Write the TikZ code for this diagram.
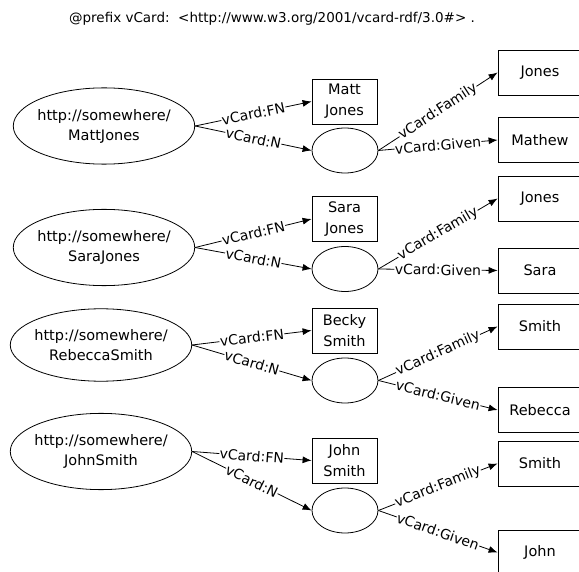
\documentclass[tikz,border=0pt]{standalone}
\usepackage{fontspec}
\setmainfont{DejaVu Sans}
\usetikzlibrary{shapes.geometric,arrows.meta}

\begin{document}
\begin{tikzpicture}[x=1pt,y=-1pt]

\tikzstyle{title}=[inner sep=0pt, font=\fontsize{13.5}{16}\selectfont]
\tikzstyle{uri}=[ellipse, draw, line width=0.8pt, inner xsep=-2.5pt, inner ysep=10pt, align=center, font=\fontsize{14.5}{20}\selectfont]
\tikzstyle{blank}=[ellipse, draw, line width=0.8pt, minimum width=66pt, minimum height=45pt, inner sep=0pt]
\tikzstyle{literal}=[rectangle, draw, line width=0.8pt, minimum width=65pt, minimum height=45pt, inner sep=0pt, align=center, font=\fontsize{14.5}{21}\selectfont]
\tikzstyle{value}=[rectangle, draw, line width=0.8pt, minimum width=84pt, minimum height=45pt, inner sep=0pt, font=\fontsize{14.5}{20}\selectfont]
\tikzstyle{edge1}=[line width=0.8pt, -{Latex[length=9pt,width=7pt]}]
\tikzstyle{prop}=[sloped, fill=white, inner sep=0.5pt, font=\fontsize{14}{16}\selectfont]

\useasboundingbox (0,0) rectangle (579,572);

\node[title] (prefix) at (272,19) {@prefix vCard:~~<http://www.w3.org/2001/vcard-rdf/3.0\#>~.};

% Matt Jones
\node[uri] (subject1) at (104,126) {http://somewhere/\\MattJones};
\node[literal] (fn1) at (344.5,101.5) {Matt\\Jones};
\node[blank] (name1) at (345,150.5) {};
\node[value] (family1) at (540,72.5) {Jones};
\node[value] (given1) at (540,140) {Mathew};

% Sara Jones
\node[uri] (subject2) at (104,247.5) {http://somewhere/\\SaraJones};
\node[literal] (fn2) at (344.5,219) {Sara\\Jones};
\node[blank] (name2) at (345,269) {};
\node[value] (family2) at (540,198.5) {Jones};
\node[value] (given2) at (540,270.5) {Sara};

% Rebecca Smith
\node[uri] (subject3) at (101,345) {http://somewhere/\\RebeccaSmith};
\node[literal] (fn3) at (344.5,330.5) {Becky\\Smith};
\node[blank] (name3) at (345,380.5) {};
\node[value] (family3) at (540,326.5) {Smith};
\node[value] (given3) at (540,410) {Rebecca};

% John Smith
\node[uri] (subject4) at (101,451.5) {http://somewhere/\\JohnSmith};
\node[literal] (fn4) at (344.5,460.5) {John\\Smith};
\node[blank] (name4) at (345,510.5) {};
\node[value] (family4) at (540,463.5) {Smith};
\node[value] (given4) at (540,552.5) {John};

\draw[edge1] (subject1.east) -- node[prop] {vCard:FN} (fn1.west);
\draw[edge1] (subject1.east) -- node[prop] {vCard:N} (name1.west);
\draw[edge1] (name1.east) -- node[prop] {vCard:Family} (family1.west);
\draw[edge1] (name1.east) -- node[prop] {vCard:Given} (given1.west);

\draw[edge1] (subject2.east) -- node[prop] {vCard:FN} (fn2.west);
\draw[edge1] (subject2.east) -- node[prop] {vCard:N} (name2.west);
\draw[edge1] (name2.east) -- node[prop] {vCard:Family} (family2.west);
\draw[edge1] (name2.east) -- node[prop] {vCard:Given} (given2.west);

\draw[edge1] (subject3.east) -- node[prop] {vCard:FN} (fn3.west);
\draw[edge1] (subject3.east) -- node[prop] {vCard:N} (name3.west);
\draw[edge1] (name3.east) -- node[prop] {vCard:Family} (family3.west);
\draw[edge1] (name3.east) -- node[prop] {vCard:Given} (given3.west);

\draw[edge1] (subject4.east) -- node[prop] {vCard:FN} (fn4.west);
\draw[edge1] (subject4.east) -- node[prop] {vCard:N} (name4.west);
\draw[edge1] (name4.east) -- node[prop] {vCard:Family} (family4.west);
\draw[edge1] (name4.east) -- node[prop] {vCard:Given} (given4.west);

\end{tikzpicture}
\end{document}
